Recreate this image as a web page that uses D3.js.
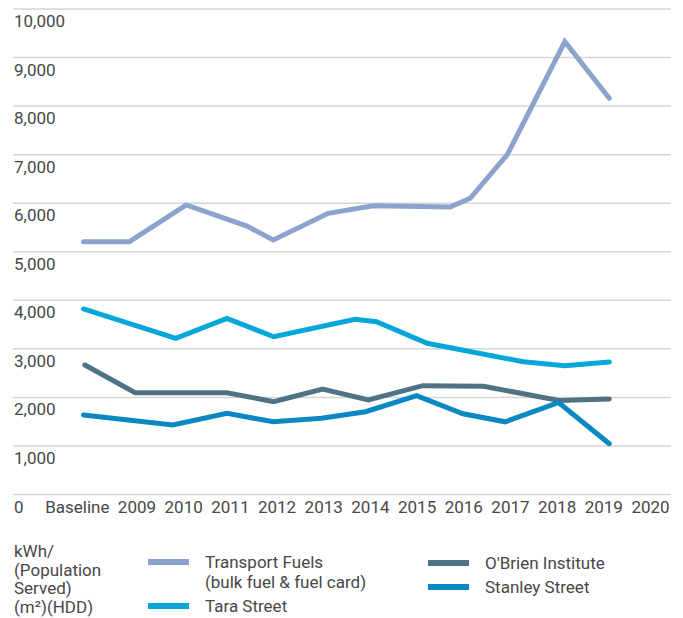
<!DOCTYPE html>
<html>
<head>
<meta charset="utf-8">
<script src="https://cdn.jsdelivr.net/npm/d3@7"></script>
<style>
  html, body { margin: 0; padding: 0; background: #fff; }
  svg { display: block; }
  text { font-family: Roboto, "Noto Sans", sans-serif; fill: #474747; }
</style>
</head>
<body>
<svg id="chart" width="683" height="618"></svg>
<script>
// ---- data ----
const xLabels = ["Baseline", "2009", "2010", "2011", "2012", "2013", "2014", "2015", "2016", "2017", "2018", "2019", "2020"];
const yTicks = [0, 1000, 2000, 3000, 4000, 5000, 6000, 7000, 8000, 9000, 10000];

// x positions are in category index units (0 = Baseline ... 11 = 2019), as drawn
const transportX = [0, 0.96, 2.15, 3.42, 3.97, 5.12, 6.06, 7.67, 8.09, 8.87, 10.07, 11];
const transportY = [5207, 5207, 5963, 5530, 5242, 5792, 5948, 5922, 6101, 7007, 9326, 8161];

const taraX = [0, 1.93, 3.0, 3.98, 5.68, 6.13, 7.19, 9.2, 10.07, 11];
const taraY = [3821, 3217, 3629, 3250, 3609, 3559, 3114, 2735, 2653, 2729];

const obrienX = [0.03, 1.08, 3.0, 3.98, 5.0, 5.96, 7.1, 8.37, 9.95, 11];
const obrienY = [2667, 2097, 2097, 1911, 2173, 1946, 2241, 2229, 1936, 1967];

const stanleyX = [0, 1.87, 3.0, 3.97, 4.98, 5.9, 6.97, 7.94, 8.82, 9.94, 11];
const stanleyY = [1637, 1431, 1672, 1499, 1569, 1705, 2035, 1664, 1497, 1895, 1046];

const seriesNames = ["Transport Fuels", "Tara Street", "O'Brien Institute", "Stanley Street"];
const seriesColors = ["#8ba3cd", "#05a6da", "#4f7384", "#0a88c2"];
const unitLines = ["kWh/", "(Population", "Served)", "(m²)(HDD)"];

// ---- layout ----
const svg = d3.select("#chart");
const FS = 17;
const y = d3.scaleLinear().domain([0, 10000]).range([494.5, 9]);
const x = d3.scaleLinear().domain([0, 11]).range([83.5, 609.3]);
const xl = d3.scalePoint().domain(xLabels).range([90.3, 650.5]);

// gridlines
svg.append("g").selectAll("line").data(yTicks).join("line")
  .attr("x1", 13).attr("x2", 671)
  .attr("y1", d => y(d)).attr("y2", d => y(d))
  .attr("stroke", "#d6d6d6").attr("stroke-width", 1.5);

// y labels (below gridlines)
svg.append("g").selectAll("text").data(yTicks).join("text")
  .attr("x", 14).attr("y", d => y(d) + 18)
  .attr("font-size", FS)
  .text(d => d3.format(",")(d));

// x labels
svg.append("g").selectAll("text").data(xLabels).join("text")
  .attr("x", d => xl(d)).attr("dx", (d, i) => i === 0 ? -13 : 0)
  .attr("y", y(0) + 18)
  .attr("text-anchor", "middle")
  .attr("font-size", FS)
  .text(d => d);

// lines
const seriesData = [
  d3.zip(transportX, transportY),
  d3.zip(taraX, taraY),
  d3.zip(obrienX, obrienY),
  d3.zip(stanleyX, stanleyY)
];
const line = d3.line().x(d => x(d[0])).y(d => y(d[1]));
const drawOrder = [0, 1, 2, 3];
svg.append("g").selectAll("path").data(drawOrder).join("path")
  .attr("d", i => line(seriesData[i]))
  .attr("fill", "none")
  .attr("stroke", i => seriesColors[i])
  .attr("stroke-width", 5)
  .attr("stroke-linecap", "round")
  .attr("stroke-linejoin", "miter");

// legend: unit text
svg.append("g").selectAll("text").data(unitLines).join("text")
  .attr("x", 14).attr("y", (d, i) => 557 + i * 18.5)
  .attr("font-size", FS)
  .text(d => d);

// legend entries
const legendItems = [
  { i: 0, sx: 148, sy: 562, lines: ["Transport Fuels", "(bulk fuel & fuel card)"] },
  { i: 1, sx: 148, sy: 606, lines: ["Tara Street"] },
  { i: 2, sx: 428, sy: 563, lines: ["O'Brien Institute"] },
  { i: 3, sx: 428, sy: 587, lines: ["Stanley Street"] }
];
const lg = svg.append("g");
legendItems.forEach(it => {
  lg.append("rect")
    .attr("x", it.sx).attr("y", it.sy - 3).attr("width", 41).attr("height", 6)
    .attr("fill", seriesColors[it.i]);
  it.lines.forEach((t, k) => {
    lg.append("text")
      .attr("x", it.sx + 57).attr("y", it.sy + 6 + k * 19.5)
      .attr("font-size", FS)
      .text(t);
  });
});
</script>
</body>
</html>
